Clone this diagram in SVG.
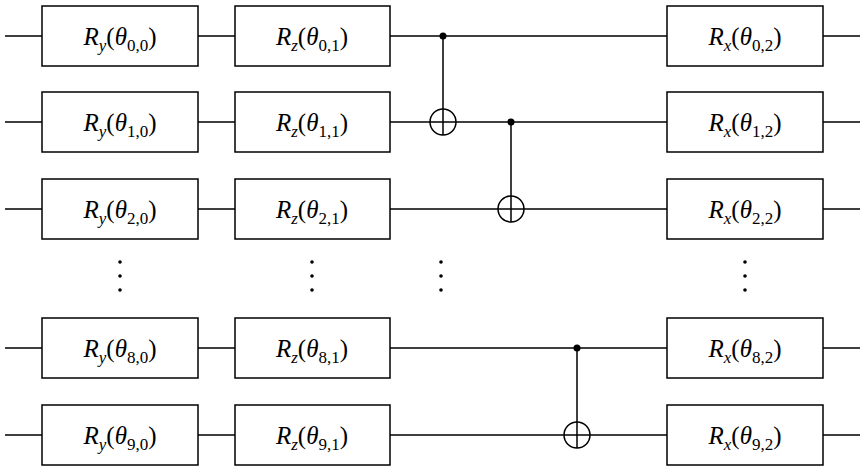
<svg xmlns="http://www.w3.org/2000/svg" width="866" height="471" viewBox="0 0 866 471">
<style>
.w{stroke:#000;stroke-width:1.5;fill:none}
.b{stroke:#000;stroke-width:1.5;fill:#fff}
text{font-family:"Liberation Serif",serif;font-size:25px;text-anchor:middle}
.i{font-style:italic}
.s{font-size:17px}
</style>
<defs>
<g id="dots"><circle cx="0" cy="0" r="1.8"/><circle cx="0" cy="14" r="1.8"/><circle cx="0" cy="28" r="1.8"/></g>
</defs>
<g id="connectors">
<path class="w" d="M5 36H860M5 122H860M5 209H860M5 348H860M5 435H860"/>
<path class="w" d="M443 36V135M511 122V222M577 348V448"/>
<circle cx="443" cy="36" r="3.5"/><circle cx="511" cy="122" r="3.5"/><circle cx="577" cy="348" r="3.5"/>
<circle class="w" cx="443" cy="122" r="13"/><circle class="w" cx="511" cy="209" r="13"/><circle class="w" cx="577" cy="435" r="13"/>
</g>
<g id="dotsrow">
<use href="#dots" x="120" y="262"/><use href="#dots" x="312" y="262"/><use href="#dots" x="441" y="262"/><use href="#dots" x="745" y="262"/>
</g>
<g id="gates">
<g id="ry0"><rect class="b" x="42" y="6" width="156" height="60"/><text x="120" y="45"><tspan class="i">R</tspan><tspan class="i s" dy="6">y</tspan><tspan dy="-6">(</tspan><tspan class="i">θ</tspan><tspan class="s" dy="6">0,0</tspan><tspan dy="-6">)</tspan></text></g>
<g id="ry1"><rect class="b" x="42" y="92" width="156" height="60"/><text x="120" y="131"><tspan class="i">R</tspan><tspan class="i s" dy="6">y</tspan><tspan dy="-6">(</tspan><tspan class="i">θ</tspan><tspan class="s" dy="6">1,0</tspan><tspan dy="-6">)</tspan></text></g>
<g id="ry2"><rect class="b" x="42" y="179" width="156" height="60"/><text x="120" y="218"><tspan class="i">R</tspan><tspan class="i s" dy="6">y</tspan><tspan dy="-6">(</tspan><tspan class="i">θ</tspan><tspan class="s" dy="6">2,0</tspan><tspan dy="-6">)</tspan></text></g>
<g id="ry8"><rect class="b" x="42" y="318" width="156" height="60"/><text x="120" y="357"><tspan class="i">R</tspan><tspan class="i s" dy="6">y</tspan><tspan dy="-6">(</tspan><tspan class="i">θ</tspan><tspan class="s" dy="6">8,0</tspan><tspan dy="-6">)</tspan></text></g>
<g id="ry9"><rect class="b" x="42" y="405" width="156" height="60"/><text x="120" y="444"><tspan class="i">R</tspan><tspan class="i s" dy="6">y</tspan><tspan dy="-6">(</tspan><tspan class="i">θ</tspan><tspan class="s" dy="6">9,0</tspan><tspan dy="-6">)</tspan></text></g>
<g id="rz0"><rect class="b" x="235" y="6" width="155" height="60"/><text x="312" y="45"><tspan class="i">R</tspan><tspan class="i s" dy="6">z</tspan><tspan dy="-6">(</tspan><tspan class="i">θ</tspan><tspan class="s" dy="6">0,1</tspan><tspan dy="-6">)</tspan></text></g>
<g id="rz1"><rect class="b" x="235" y="92" width="155" height="60"/><text x="312" y="131"><tspan class="i">R</tspan><tspan class="i s" dy="6">z</tspan><tspan dy="-6">(</tspan><tspan class="i">θ</tspan><tspan class="s" dy="6">1,1</tspan><tspan dy="-6">)</tspan></text></g>
<g id="rz2"><rect class="b" x="235" y="179" width="155" height="60"/><text x="312" y="218"><tspan class="i">R</tspan><tspan class="i s" dy="6">z</tspan><tspan dy="-6">(</tspan><tspan class="i">θ</tspan><tspan class="s" dy="6">2,1</tspan><tspan dy="-6">)</tspan></text></g>
<g id="rz8"><rect class="b" x="235" y="318" width="155" height="60"/><text x="312" y="357"><tspan class="i">R</tspan><tspan class="i s" dy="6">z</tspan><tspan dy="-6">(</tspan><tspan class="i">θ</tspan><tspan class="s" dy="6">8,1</tspan><tspan dy="-6">)</tspan></text></g>
<g id="rz9"><rect class="b" x="235" y="405" width="155" height="60"/><text x="312" y="444"><tspan class="i">R</tspan><tspan class="i s" dy="6">z</tspan><tspan dy="-6">(</tspan><tspan class="i">θ</tspan><tspan class="s" dy="6">9,1</tspan><tspan dy="-6">)</tspan></text></g>
<g id="rx0"><rect class="b" x="667" y="6" width="156" height="60"/><text x="745" y="45"><tspan class="i">R</tspan><tspan class="i s" dy="6">x</tspan><tspan dy="-6">(</tspan><tspan class="i">θ</tspan><tspan class="s" dy="6">0,2</tspan><tspan dy="-6">)</tspan></text></g>
<g id="rx1"><rect class="b" x="667" y="92" width="156" height="60"/><text x="745" y="131"><tspan class="i">R</tspan><tspan class="i s" dy="6">x</tspan><tspan dy="-6">(</tspan><tspan class="i">θ</tspan><tspan class="s" dy="6">1,2</tspan><tspan dy="-6">)</tspan></text></g>
<g id="rx2"><rect class="b" x="667" y="179" width="156" height="60"/><text x="745" y="218"><tspan class="i">R</tspan><tspan class="i s" dy="6">x</tspan><tspan dy="-6">(</tspan><tspan class="i">θ</tspan><tspan class="s" dy="6">2,2</tspan><tspan dy="-6">)</tspan></text></g>
<g id="rx8"><rect class="b" x="667" y="318" width="156" height="60"/><text x="745" y="357"><tspan class="i">R</tspan><tspan class="i s" dy="6">x</tspan><tspan dy="-6">(</tspan><tspan class="i">θ</tspan><tspan class="s" dy="6">8,2</tspan><tspan dy="-6">)</tspan></text></g>
<g id="rx9"><rect class="b" x="667" y="405" width="156" height="60"/><text x="745" y="444"><tspan class="i">R</tspan><tspan class="i s" dy="6">x</tspan><tspan dy="-6">(</tspan><tspan class="i">θ</tspan><tspan class="s" dy="6">9,2</tspan><tspan dy="-6">)</tspan></text></g>
</g>
</svg>
